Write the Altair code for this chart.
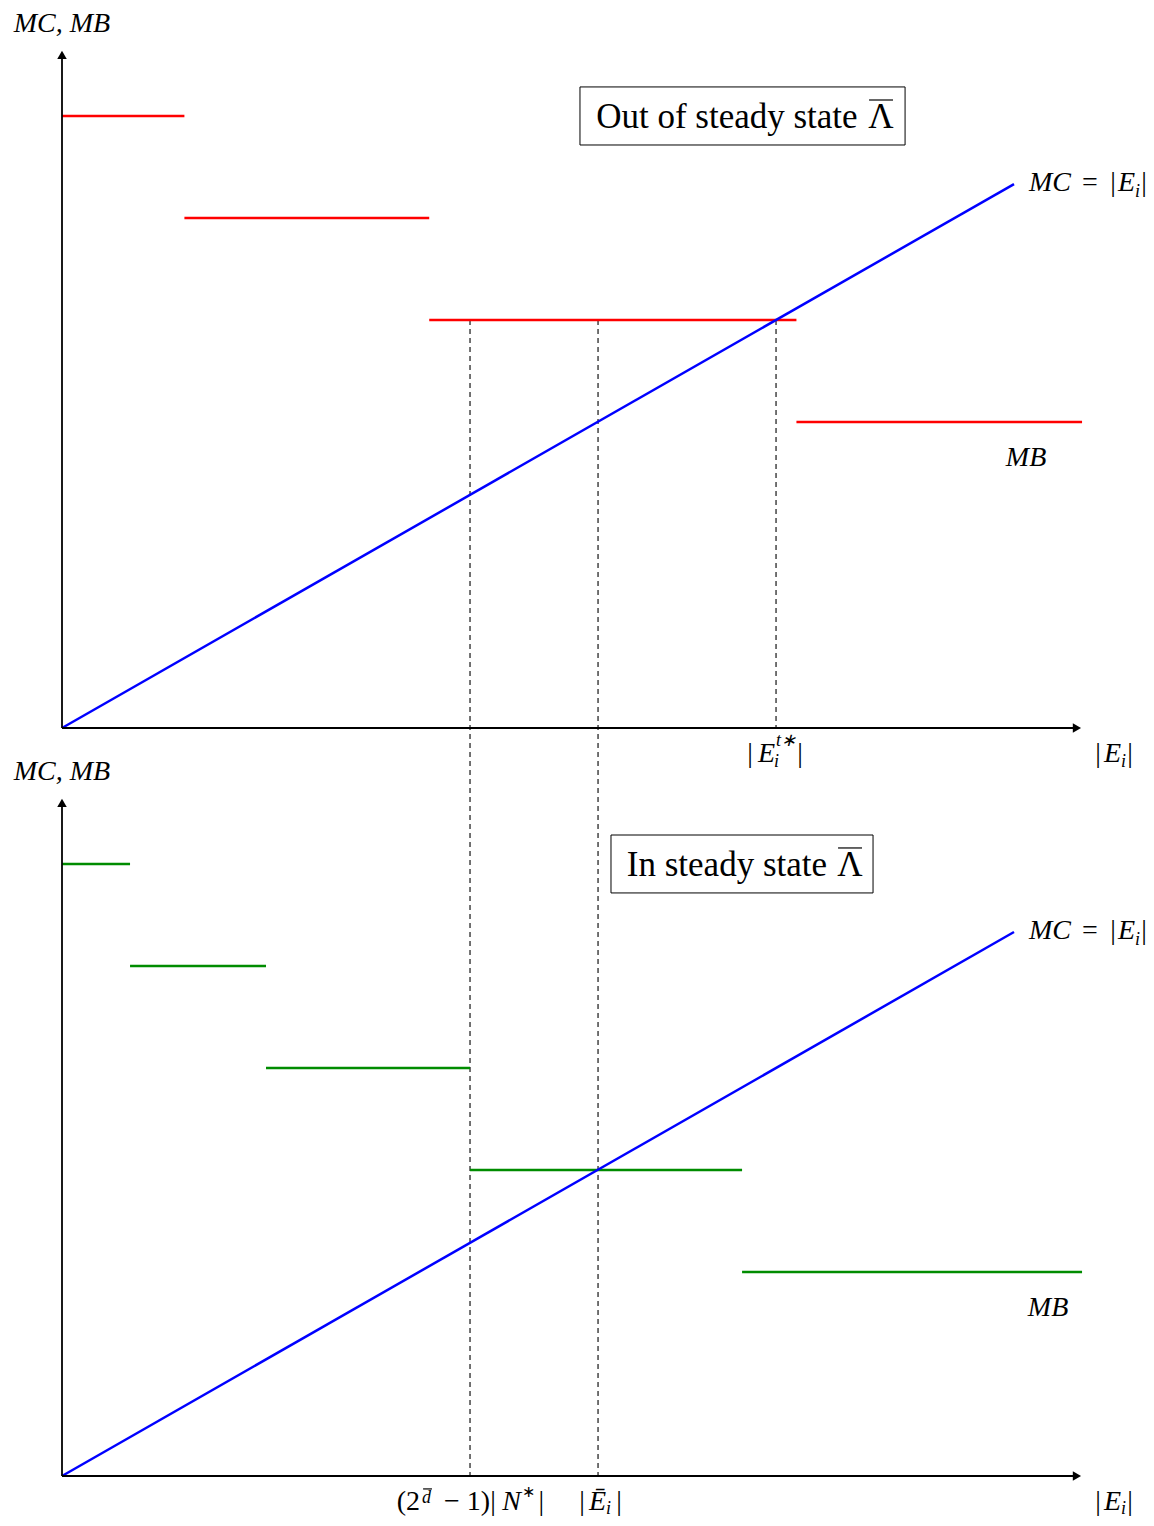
import altair as alt
import pandas as pd

# ---------------- data (diagram units) ----------------
TOP = 7.333  # vertical offset of the upper panel

red_breaks = [0, 1.2, 3.6, 7.2, 10.0]
red_levels = [6, 5, 4, 3]
green_breaks = [0, 0.667, 2.0, 4.0, 6.667, 10.0]
green_levels = [6, 5, 4, 3, 2]
mc_x = [0, 9.333]
mc_y = [0, 5.333]
dash_x = [4.0, 5.255, 7.0]
dash_top = [TOP + 4, TOP + 4, TOP + 4]
dash_bottom = [0, 0, TOP]

FONT = "Liberation Serif"
W, H = 1138, 1510
xs = alt.Scale(domain=[-0.5294, 10.627], nice=False, zero=False)
ys = alt.Scale(domain=[-0.412, 14.392], nice=False, zero=False)


def X(f="x"):
    return alt.X(f"{f}:Q", scale=xs, axis=None)


def Y(f="y"):
    return alt.Y(f"{f}:Q", scale=ys, axis=None)


def segs(rows):
    return pd.DataFrame(rows, columns=["x", "x2", "y", "y2"])


# axes
axes_df = segs([
    (0, 9.92, 0, 0), (0, 0, 0, 6.6),
    (0, 9.92, TOP, TOP), (0, 0, TOP, TOP + 6.6),
])
axes = alt.Chart(axes_df).mark_rule(color="black", strokeWidth=1.8).encode(
    x=X(), x2="x2:Q", y=Y(), y2="y2:Q")

arrow_r = alt.Chart(pd.DataFrame({"x": [9.95, 9.95], "y": [0, TOP]})).mark_point(
    shape="triangle-right", filled=True, color="black", size=90, opacity=1).encode(x=X(), y=Y())
arrow_u = alt.Chart(pd.DataFrame({"x": [0, 0], "y": [6.6, TOP + 6.6]})).mark_point(
    shape="triangle-up", filled=True, color="black", size=90, opacity=1).encode(x=X(), y=Y())

# dashed guides
dash_df = pd.DataFrame({"x": dash_x, "y": dash_top, "y2": dash_bottom})
dashes = alt.Chart(dash_df).mark_rule(color="black", strokeWidth=1.1, strokeDash=[5, 4]).encode(
    x=X(), y=Y(), y2="y2:Q")

# MB steps
red_df = segs([(red_breaks[i], red_breaks[i + 1], TOP + v, TOP + v) for i, v in enumerate(red_levels)])
green_df = segs([(green_breaks[i], green_breaks[i + 1], v, v) for i, v in enumerate(green_levels)])
red = alt.Chart(red_df).mark_rule(color="#ff0000", strokeWidth=2.5).encode(x=X(), x2="x2:Q", y=Y())
green = alt.Chart(green_df).mark_rule(color="#008c00", strokeWidth=2.5).encode(x=X(), x2="x2:Q", y=Y())

# MC lines
mc_df = segs([
    (mc_x[0], mc_x[1], TOP + mc_y[0], TOP + mc_y[1]),
    (mc_x[0], mc_x[1], mc_y[0], mc_y[1]),
])
mc = alt.Chart(mc_df).mark_rule(color="#0000ff", strokeWidth=2.5).encode(
    x=X(), x2="x2:Q", y=Y(), y2="y2:Q")

# title boxes
box_df = segs([(5.078, 8.265, 13.049, 13.618), (5.382, 7.951, 5.716, 6.284)])
boxes = alt.Chart(box_df).mark_rect(fill="white", stroke="black", strokeWidth=1).encode(
    x=X(), x2="x2:Q", y=Y(), y2="y2:Q")

# overlines (Λ in titles, d in exponent)
bars_df = segs([(7.912, 8.147, 13.49, 13.49), (7.608, 7.843, 6.157, 6.157), (3.54, 3.627, -0.127, -0.127)])
bars = alt.Chart(bars_df).mark_rule(color="black", strokeWidth=1.2).encode(x=X(), x2="x2:Q", y=Y())


def txt(rows, align="left", italic=True, size=28):
    df = pd.DataFrame(rows, columns=["x", "y", "t"])
    return alt.Chart(df).mark_text(
        align=align, baseline="alphabetic", font=FONT, fontSize=size,
        fontStyle="italic" if italic else "normal", color="black").encode(
        x=X(), y=Y(), text="t:N")


titles = txt([(7.80, 13.216, "Out of steady state"),
              (7.50, 5.882, "In steady state")], align="right", italic=False, size=35)
lambdas = txt([(8.029, 13.216, "Λ"), (7.725, 5.882, "Λ")], align="center", italic=False, size=35)

ital_center = txt([
    (0, 14.157, "MC, MB"), (0, 6.824, "MC, MB"),
    (9.451, 9.902, "MB"), (9.667, 1.569, "MB"),
], align="center", italic=True, size=28)

ital_right = txt([
    (9.892, 12.598, "MC"), (9.892, 5.265, "MC"),
    (10.52, 12.598, "E"), (10.52, 5.265, "E"),
    (6.99, 7.0, "E"),
    (10.382, 7.0, "E"), (10.382, -0.333, "E"),
    (4.50, -0.333, "N"),
    (5.333, -0.333, "E\u0304"),
], align="right", italic=True, size=28)

sub_left = txt([
    (10.52, 12.54, "i"), (10.52, 5.206, "i"),
    (6.98, 6.951, "i"), (7.0, 7.16, "t∗"),
    (10.382, 6.951, "i"), (10.382, -0.3725, "i"),
    (3.529, -0.265, "d"),
    (5.333, -0.3725, "i"),
], align="left", italic=True, size=18)

star_sup = txt([(4.505, -0.21, "∗")], align="left", italic=False, size=16)

up_center = txt([
    (10.078, 12.598, "="), (10.078, 5.265, "="),
    (10.304, 12.598, "|"), (10.304, 5.265, "|"),
    (10.608, 12.598, "|"), (10.608, 5.265, "|"),
    (6.745, 7.0, "|"), (7.235, 7.0, "|"),
    (10.157, 7.0, "|"), (10.471, 7.0, "|"),
    (10.157, -0.333, "|"), (10.471, -0.333, "|"),
    (4.225, -0.333, "|"), (4.70, -0.333, "|"),
    (5.098, -0.333, "|"), (5.461, -0.333, "|"),
], align="center", italic=False, size=28)

up_right = txt([(3.51, -0.333, "(2"), (4.196, -0.333, "− 1)")], align="right", italic=False, size=28)

chart = alt.layer(
    dashes, red, green, mc, axes, arrow_r, arrow_u, boxes, bars,
    titles, lambdas, ital_center, ital_right, sub_left, star_sup, up_center, up_right,
).properties(
    width=W, height=H,
    autosize=alt.AutoSizeParams(type="none"),
    padding=0,
).configure_view(stroke=None)

chart.save("out.html", embed_options={"renderer": "svg", "actions": False})
